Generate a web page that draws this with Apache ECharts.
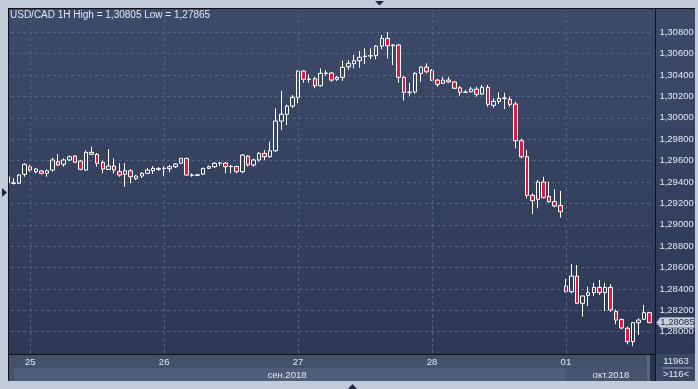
<!DOCTYPE html>
<html><head><meta charset="utf-8">
<script src="https://cdn.jsdelivr.net/npm/echarts@6/dist/echarts.min.js"></script>
<style>html,body{margin:0;padding:0;background:#c2ccd9}#c{width:698px;height:389px}</style>
</head><body><div id="c"></div>
<script>
// Hourly candles: 24 Sep 20:00 .. 01 Oct 15:00
const days = ['24', '25', '26', '27', '28', '01'];
const dayFirstHour = [20, 0, 0, 0, 0, 0];
const dayLastHour = [23, 23, 23, 23, 23, 15];
const monthLabels = ['сен.2018', 'окт.2018'];
const infoTop = '11963';
const infoBottom = '>116<';

const opens = [
1.29449,1.29386,1.29388,1.29472,1.29543,1.29496,1.29503,1.29481,1.29512,1.29590,
1.29565,1.29606,1.29643,1.29596,1.29512,1.29677,1.29659,1.29584,1.29518,1.29549,
1.29496,1.29472,1.29505,1.29431,1.29456,1.29481,1.29505,1.29518,1.29526,1.29524,
1.29543,1.29575,1.29621,1.29465,1.29462,1.29474,1.29528,1.29543,1.29575,1.29577,
1.29543,1.29545,1.29496,1.29643,1.29559,1.29606,1.29668,1.29636,1.29692,1.29970,
1.30033,1.30110,1.30192,1.30438,1.30360,1.30366,1.30300,1.30416,1.30419,1.30360,
1.30379,1.30478,1.30506,1.30534,1.30573,1.30578,1.30581,1.30671,1.30743,1.30674,
1.30681,1.30379,1.30238,1.30241,1.30416,1.30475,1.30442,1.30353,1.30323,1.30353,
1.30335,1.30281,1.30238,1.30244,1.30269,1.30223,1.30285,1.30117,1.30154,1.30182,
1.30173,1.30129,1.29786,1.29636,1.29275,1.29238,1.29400,1.29264,1.29217,1.29180,
1.28427,1.28374,1.28521,1.28266,1.28340,1.28365,1.28415,1.28365,1.28415,1.28189,
1.28114,1.28032,1.27907,1.28084,1.28116,1.28178];
const closes = [
1.29393,1.29392,1.29465,1.29565,1.29512,1.29521,1.29481,1.29505,1.29606,1.29559,
1.29606,1.29636,1.29584,1.29518,1.29677,1.29659,1.29575,1.29521,1.29549,1.29512,
1.29465,1.29505,1.29449,1.29456,1.29481,1.29512,1.29528,1.29526,1.29528,1.29543,
1.29568,1.29621,1.29465,1.29462,1.29468,1.29528,1.29543,1.29575,1.29577,1.29543,
1.29547,1.29496,1.29652,1.29559,1.29606,1.29668,1.29636,1.29692,1.29970,1.30033,
1.30110,1.30192,1.30438,1.30360,1.30363,1.30300,1.30416,1.30419,1.30353,1.30379,
1.30472,1.30510,1.30534,1.30566,1.30578,1.30581,1.30671,1.30743,1.30674,1.30681,
1.30379,1.30238,1.30241,1.30416,1.30475,1.30431,1.30351,1.30313,1.30353,1.30335,
1.30276,1.30238,1.30241,1.30269,1.30220,1.30285,1.30126,1.30154,1.30182,1.30185,
1.30126,1.29786,1.29636,1.29275,1.29225,1.29400,1.29253,1.29216,1.29175,1.29122,
1.28374,1.28521,1.28266,1.28334,1.28365,1.28415,1.28365,1.28415,1.28203,1.28109,
1.28035,1.27907,1.28084,1.28109,1.28178,1.28085];
const lows = [
1.29381,1.29376,1.29381,1.29449,1.29496,1.29481,1.29470,1.29449,1.29496,1.29549,
1.29543,1.29596,1.29577,1.29509,1.29505,1.29652,1.29543,1.29481,1.29512,1.29481,
1.29449,1.29356,1.29388,1.29418,1.29437,1.29474,1.29474,1.29503,1.29456,1.29493,
1.29531,1.29568,1.29456,1.29449,1.29459,1.29465,1.29521,1.29531,1.29549,1.29481,
1.29481,1.29481,1.29481,1.29545,1.29543,1.29590,1.29606,1.29624,1.29680,1.29886,
1.29933,1.30092,1.30136,1.30328,1.30328,1.30276,1.30291,1.30391,1.30338,1.30344,
1.30347,1.30447,1.30463,1.30468,1.30503,1.30547,1.30547,1.30640,1.30556,1.30493,
1.30328,1.30160,1.30204,1.30227,1.30338,1.30416,1.30344,1.30291,1.30316,1.30325,
1.30269,1.30207,1.30232,1.30238,1.30197,1.30213,1.30104,1.30094,1.30129,1.30082,
1.30104,1.29715,1.29621,1.29247,1.29100,1.29154,1.29247,1.29206,1.29163,1.29066,
1.28367,1.28359,1.28259,1.28140,1.28240,1.28334,1.28343,1.28194,1.28184,1.28069,
1.28022,1.27882,1.27865,1.27969,1.28109,1.28079];
const highs = [
1.29465,1.29437,1.29474,1.29573,1.29559,1.29531,1.29512,1.29518,1.29627,1.29661,
1.29621,1.29647,1.29652,1.29606,1.29694,1.29730,1.29671,1.29599,1.29708,1.29621,
1.29575,1.29575,1.29521,1.29465,1.29493,1.29531,1.29549,1.29540,1.29545,1.29559,
1.29577,1.29624,1.29626,1.29481,1.29474,1.29531,1.29554,1.29587,1.29591,1.29587,
1.29559,1.29554,1.29661,1.29652,1.29619,1.29680,1.29699,1.29777,1.30089,1.30253,
1.30124,1.30213,1.30447,1.30447,1.30407,1.30384,1.30463,1.30447,1.30428,1.30391,
1.30534,1.30540,1.30587,1.30625,1.30650,1.30650,1.30681,1.30774,1.30805,1.30690,
1.30690,1.30391,1.30328,1.30428,1.30484,1.30510,1.30456,1.30363,1.30384,1.30384,
1.30344,1.30297,1.30260,1.30291,1.30291,1.30307,1.30307,1.30182,1.30238,1.30235,
1.30197,1.30151,1.29808,1.29699,1.29294,1.29418,1.29449,1.29403,1.29334,1.29316,
1.28493,1.28633,1.28624,1.28338,1.28421,1.28458,1.28483,1.28458,1.28446,1.28208,
1.28125,1.28047,1.28090,1.28125,1.28250,1.28184];

const categories = [];
days.forEach((d, k) => {
  for (let h = dayFirstHour[k]; h <= dayLastHour[k]; h++) categories.push(d + ' ' + String(h).padStart(2, '0'));
});
const candles = opens.map((o, i) => [o, closes[i], lows[i], highs[i]]);
const dayStarts = categories.filter(c => c.endsWith(' 00'));
const fmt = v => v.toFixed(5).replace('.', ',');
const FONT = 'Liberation Sans';
const TXT = '#e2e9f3';
const GRIDC = '#56637f';

const chart = echarts.init(document.getElementById('c'), null, {renderer: 'canvas', width: 698, height: 389});
chart.setOption({
  animation: false,
  backgroundColor: '#c2ccd9',
  title: {
    text: 'USD/CAD 1H High = ' + fmt(Math.max(...highs)) + ' Low = ' + fmt(Math.min(...lows)),
    left: 8, top: 10, padding: [0, 2],
    textStyle: {color: TXT, fontSize: 10, fontWeight: 'normal', fontFamily: FONT}
  },
  grid: {left: 5.1, right: 45.6, top: 10.9, bottom: 389 - 353.1},
  xAxis: {
    type: 'category', data: categories, boundaryGap: true,
    axisLine: {show: false}, axisTick: {show: false}, splitLine: {show: false},
    axisLabel: {
      interval: (i, v) => v.endsWith(' 00'),
      formatter: v => v.split(' ')[0],
      color: TXT, fontSize: 9.5, margin: 4, fontFamily: FONT
    }
  },
  yAxis: {
    type: 'value', position: 'right', min: 1.278, max: 1.310, interval: 0.002,
    axisLine: {show: false}, axisTick: {show: false},
    axisLabel: {formatter: fmt, color: TXT, fontSize: 9.5, margin: 7, fontFamily: FONT, showMinLabel: false, showMaxLabel: false},
    splitLine: {show: true, showMinLine: false, showMaxLine: false, lineStyle: {color: GRIDC, type: [3, 3], width: 1}}
  },
  series: [
    {
      type: 'line', data: categories.map(() => null), z: 1, silent: true, showSymbol: false,
      markLine: {
        silent: true, symbol: 'none', label: {show: false}, animation: false,
        lineStyle: {color: GRIDC, type: [3, 3], width: 1},
        data: dayStarts.map(d => ({xAxis: d}))
      }
    },
    {
      type: 'candlestick', z: 3, barWidth: 4, data: candles,
      itemStyle: {color: 'rgba(0,0,0,0)', color0: '#e4173e', borderColor: '#ffffff', borderColor0: '#ffffff', borderWidth: 1}
    }
  ]
});

const octX = chart.convertToPixel({xAxisIndex: 0}, dayStarts[dayStarts.length - 1]);
const lastY = chart.convertToPixel({yAxisIndex: 0}, closes[closes.length - 1]);
const FRAME = '#c2ccd9';
const LINE = '#0e131d';
const els = [
  {type: 'rect', z: -10, shape: {x: 8, y: 8, width: 687, height: 346},
   style: {fill: new echarts.graphic.LinearGradient(0, 0, 0, 1, [{offset: 0, color: '#3d4a69'}, {offset: 1, color: '#2c3855'}])}},
  {type: 'rect', z: -10, shape: {x: 8, y: 354, width: 647, height: 27}, style: {fill: '#44516b'}},
  {type: 'rect', z: -10, shape: {x: 655, y: 354, width: 40, height: 27}, style: {fill: '#3b4864'}},
  {type: 'rect', z: -9, shape: {x: 14, y: 368, width: octX - 14, height: 13}, style: {fill: '#4f5d78'}},
  {type: 'rect', z: -9, shape: {x: octX, y: 368, width: 647 - octX, height: 13}, style: {fill: '#47546f'}},
  {type: 'rect', z: -9, shape: {x: 647, y: 355, width: 3, height: 26}, style: {fill: '#5a6782'}},
  {type: 'rect', z: -9, shape: {x: 650, y: 355, width: 5, height: 26}, style: {fill: '#28344c'}},
  {type: 'text', z: -8, style: {text: monthLabels[0], x: (14 + octX) / 2 - 3, y: 375, fill: TXT, font: '9.5px "' + FONT + '"', align: 'center', verticalAlign: 'middle'}},
  {type: 'text', z: -8, style: {text: monthLabels[1], x: octX + 45, y: 375, fill: TXT, font: '9.5px "' + FONT + '"', align: 'center', verticalAlign: 'middle'}},
  {type: 'text', z: -8, style: {text: infoTop, x: 676, y: 361, fill: TXT, font: '9.5px "' + FONT + '"', align: 'center', verticalAlign: 'middle'}},
  {type: 'rect', z: -8, shape: {x: 662, y: 367.5, width: 31, height: 1}, style: {fill: '#8e9bb1'}},
  {type: 'text', z: -8, style: {text: infoBottom, x: 676, y: 374.5, fill: TXT, font: '9.5px "' + FONT + '"', align: 'center', verticalAlign: 'middle'}},
  // frame
  {type: 'rect', z: 20, shape: {x: 0, y: 0, width: 8, height: 389}, style: {fill: FRAME}},
  {type: 'rect', z: 20, shape: {x: 0, y: 0, width: 698, height: 8}, style: {fill: FRAME}},
  {type: 'rect', z: 20, shape: {x: 695, y: 0, width: 3, height: 389}, style: {fill: FRAME}},
  {type: 'rect', z: 20, shape: {x: 0, y: 381, width: 698, height: 8}, style: {fill: FRAME}},
  {type: 'rect', z: 21, shape: {x: 8, y: 8, width: 1, height: 373}, style: {fill: LINE}},
  {type: 'rect', z: 21, shape: {x: 8, y: 8, width: 687, height: 1}, style: {fill: LINE}},
  {type: 'rect', z: 21, shape: {x: 655, y: 8, width: 1, height: 373}, style: {fill: LINE}},
  {type: 'rect', z: 21, shape: {x: 8, y: 354, width: 647, height: 1}, style: {fill: LINE}},
  {type: 'polygon', z: 22, shape: {points: [[375, 1], [384, 1], [379.5, 5.5]]}, style: {fill: '#1e2940'}},
  {type: 'polygon', z: 22, shape: {points: [[348, 389], [357, 389], [352.5, 384]]}, style: {fill: '#1e2940'}},
  {type: 'polygon', z: 22, shape: {points: [[2, 188], [2, 197], [7, 192.5]]}, style: {fill: '#1e2940'}},
  // last price marker
  {type: 'polygon', z: 30, shape: {points: [[656.5, lastY], [660.5, lastY - 5], [694, lastY - 5], [694, lastY + 5], [660.5, lastY + 5]]},
   style: {fill: '#c9d1dc', stroke: '#98a4b6', lineWidth: 1}},
  {type: 'text', z: 31, style: {text: fmt(closes[closes.length - 1]), x: 677.5, y: lastY, fill: '#1b2437', font: '9.5px "' + FONT + '"', align: 'center', verticalAlign: 'middle'}}
];
chart.setOption({graphic: {elements: els}});
</script>
</body></html>
